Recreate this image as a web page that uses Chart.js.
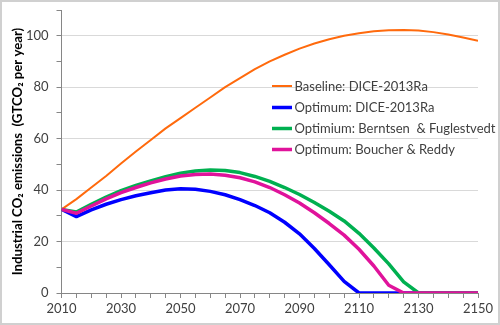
<!DOCTYPE html>
<html>
<head>
<meta charset="utf-8">
<script src="https://cdn.jsdelivr.net/npm/chart.js@4.4.1/dist/chart.umd.min.js"></script>
<style>
html,body{margin:0;padding:0;background:#fff;}
#wrap{width:500px;height:325px;position:relative;}
</style>
</head>
<body>
<div id="wrap"><canvas id="c" width="500" height="325"></canvas></div>
<script>
const years = [2010,2015,2020,2025,2030,2035,2040,2045,2050,2055,2060,2065,2070,2075,2080,2085,2090,2095,2100,2105,2110,2115,2120,2125,2130,2135,2140,2145,2150];
const baseline = [32.5,36.5,41,45.5,50.3,55,59.5,64,68,72,76,80,83.5,87,90,92.6,95,97,98.6,100,101,101.7,102.1,102.2,102,101.4,100.5,99.3,98];
const optDice = [32.5,29.7,32.3,34.5,36.3,37.8,39,40,40.5,40.3,39.5,38.2,36.3,34,31.2,27.5,23,17.3,11,4.5,0,0,0,0,0,0,0,0,0];
const optBF = [32.5,31.5,34.5,37.3,39.8,41.8,43.6,45.2,46.6,47.4,47.8,47.6,46.8,45.3,43.4,41,38.3,35.2,31.8,28,23.2,17.5,11.3,4.3,0,0,0,0,0];
const optBR = [32.5,31,33.8,36.6,39,41,42.8,44.3,45.5,46.1,46.3,45.8,44.8,43.2,41,38.2,35,31.2,27,22.5,17,10.5,3,0,0,0,0,0,0];
const seriesNames = ["Baseline: DICE-2013Ra","Optimum: DICE-2013Ra","Optimium: Berntsen  & Fuglestvedt","Optimum: Boucher & Reddy"];
const yTitle = "Industrial CO\u2082 emissions  (GTCO\u2082 per year)";

const FONT = "Lato, 'Liberation Sans', sans-serif";
const pts = arr => years.map((y,i)=>({x:y,y:arr[i]}));

const legendPlugin = {
  id:'inlegend',
  afterDatasetsDraw(chart){
    const ctx = chart.ctx;
    const rows = [86,107.5,128.5,149.5];
    ctx.save();
    ctx.font = "13px " + FONT;
    ctx.textBaseline = 'middle';
    ctx.fillStyle = '#404040';
    chart.data.datasets.forEach((ds,i)=>{
      const y = rows[i];
      ctx.strokeStyle = ds.borderColor;
      ctx.lineWidth = ds.borderWidth;
      ctx.beginPath(); ctx.moveTo(272,y); ctx.lineTo(292,y); ctx.stroke();
      ctx.fillText(ds.label, 294.5, y+0.5);
    });
    ctx.restore();
  }
};
const framePlugin = {
  id:'frame',
  afterDraw(chart){
    const ctx = chart.ctx;
    ctx.save();
    ctx.strokeStyle = '#d0d0d0';
    ctx.lineWidth = 2;
    ctx.strokeRect(1,1,498,323);
    ctx.restore();
  }
};

new Chart(document.getElementById('c'),{
  type:'line',
  data:{
    datasets:[
      {label:seriesNames[0],data:pts(baseline),borderColor:'#FF6A0D',borderWidth:2,order:3},
      {label:seriesNames[1],data:pts(optDice),borderColor:'#0000FF',borderWidth:3.5,order:2},
      {label:seriesNames[2],data:pts(optBF),borderColor:'#00B050',borderWidth:3.5,order:1},
      {label:seriesNames[3],data:pts(optBR),borderColor:'#E0139B',borderWidth:3.5,order:0}
    ]
  },
  options:{
    responsive:false,
    animation:false,
    events:[],
    elements:{point:{radius:0},line:{tension:0,borderJoinStyle:'round',borderCapStyle:'butt'}},
    layout:{padding:{left:0,right:22,top:10,bottom:0}},
    plugins:{legend:{display:false},tooltip:{enabled:false}},
    scales:{
      x:{
        type:'linear',min:2010,max:2150,
        afterFit(s){s.height=32;s.paddingLeft=0;s.paddingRight=0;},
        border:{color:'#868686',width:1},
        grid:{drawOnChartArea:false,tickColor:'#868686',tickLength:5},
        ticks:{stepSize:5,autoSkip:false,maxRotation:0,padding:3,color:'#404040',
          font:{family:FONT,size:13},
          callback:v=> ((v-2010)%20===0)? String(v):''}
      },
      y:{
        min:0,max:110,
        afterFit(s){s.width=61.5;s.paddingTop=0;s.paddingBottom=0;},
        border:{color:'#868686',width:1},
        grid:{
          color:c=> (c.tick && c.tick.value%20===0 && c.tick.value>0 && c.tick.value<110)?'#d9d9d9':'rgba(0,0,0,0)',
          tickColor:'#868686',tickLength:5
        },
        ticks:{stepSize:10,padding:8,color:'#404040',font:{family:FONT,size:13},
          callback:v=> (v%20===0 && v<110)? String(v):''},
        title:{display:true,text:yTitle,color:'#000',font:{family:FONT,size:13.2,weight:'bold'},padding:{top:9.5,bottom:0}}
      }
    }
  },
  plugins:[legendPlugin,framePlugin]
});
</script>
</body>
</html>
